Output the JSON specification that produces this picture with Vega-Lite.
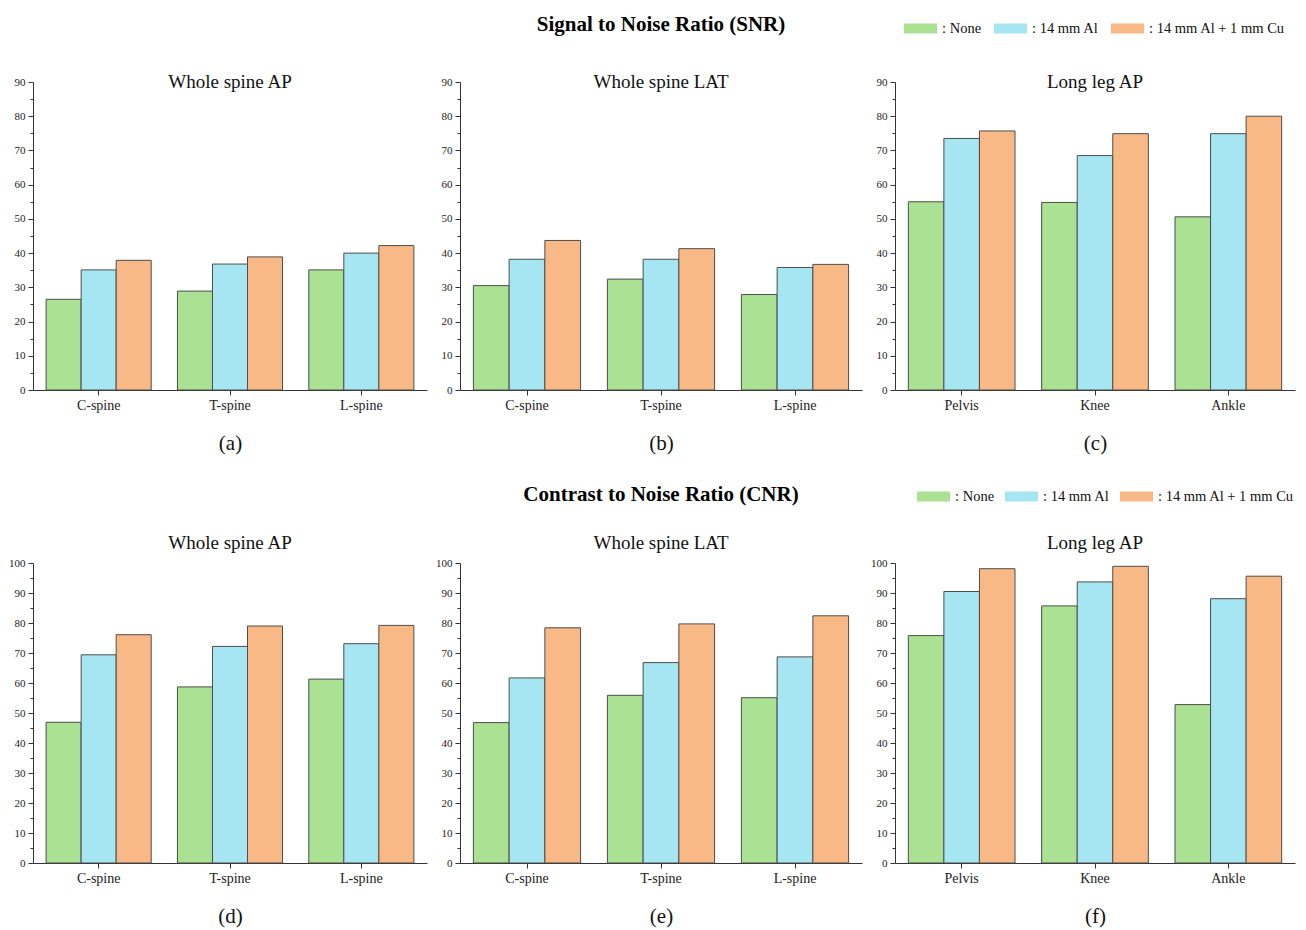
{
  "$schema": "https://vega.github.io/schema/vega-lite/v6.json",
  "background": "white",
  "padding": {"left": 8, "top": 12, "right": 6, "bottom": 4},
  "datasets": {
    "d": [
      {"panel": "a", "site": "C-spine", "filter": "None", "value": 26.5},
      {"panel": "a", "site": "C-spine", "filter": "14 mm Al", "value": 35.1},
      {"panel": "a", "site": "C-spine", "filter": "14 mm Al + 1 mm Cu", "value": 37.9},
      {"panel": "a", "site": "T-spine", "filter": "None", "value": 28.9},
      {"panel": "a", "site": "T-spine", "filter": "14 mm Al", "value": 36.8},
      {"panel": "a", "site": "T-spine", "filter": "14 mm Al + 1 mm Cu", "value": 38.9},
      {"panel": "a", "site": "L-spine", "filter": "None", "value": 35.1},
      {"panel": "a", "site": "L-spine", "filter": "14 mm Al", "value": 40.0},
      {"panel": "a", "site": "L-spine", "filter": "14 mm Al + 1 mm Cu", "value": 42.2},
      {"panel": "b", "site": "C-spine", "filter": "None", "value": 30.5},
      {"panel": "b", "site": "C-spine", "filter": "14 mm Al", "value": 38.2},
      {"panel": "b", "site": "C-spine", "filter": "14 mm Al + 1 mm Cu", "value": 43.7},
      {"panel": "b", "site": "T-spine", "filter": "None", "value": 32.4},
      {"panel": "b", "site": "T-spine", "filter": "14 mm Al", "value": 38.2},
      {"panel": "b", "site": "T-spine", "filter": "14 mm Al + 1 mm Cu", "value": 41.3},
      {"panel": "b", "site": "L-spine", "filter": "None", "value": 27.9},
      {"panel": "b", "site": "L-spine", "filter": "14 mm Al", "value": 35.8},
      {"panel": "b", "site": "L-spine", "filter": "14 mm Al + 1 mm Cu", "value": 36.7},
      {"panel": "c", "site": "Pelvis", "filter": "None", "value": 55.0},
      {"panel": "c", "site": "Pelvis", "filter": "14 mm Al", "value": 73.5},
      {"panel": "c", "site": "Pelvis", "filter": "14 mm Al + 1 mm Cu", "value": 75.7},
      {"panel": "c", "site": "Knee", "filter": "None", "value": 54.8},
      {"panel": "c", "site": "Knee", "filter": "14 mm Al", "value": 68.5},
      {"panel": "c", "site": "Knee", "filter": "14 mm Al + 1 mm Cu", "value": 74.9},
      {"panel": "c", "site": "Ankle", "filter": "None", "value": 50.6},
      {"panel": "c", "site": "Ankle", "filter": "14 mm Al", "value": 74.9},
      {"panel": "c", "site": "Ankle", "filter": "14 mm Al + 1 mm Cu", "value": 80.0},
      {"panel": "d", "site": "C-spine", "filter": "None", "value": 46.9},
      {"panel": "d", "site": "C-spine", "filter": "14 mm Al", "value": 69.4},
      {"panel": "d", "site": "C-spine", "filter": "14 mm Al + 1 mm Cu", "value": 76.1},
      {"panel": "d", "site": "T-spine", "filter": "None", "value": 58.7},
      {"panel": "d", "site": "T-spine", "filter": "14 mm Al", "value": 72.2},
      {"panel": "d", "site": "T-spine", "filter": "14 mm Al + 1 mm Cu", "value": 79.0},
      {"panel": "d", "site": "L-spine", "filter": "None", "value": 61.3},
      {"panel": "d", "site": "L-spine", "filter": "14 mm Al", "value": 73.1},
      {"panel": "d", "site": "L-spine", "filter": "14 mm Al + 1 mm Cu", "value": 79.2},
      {"panel": "e", "site": "C-spine", "filter": "None", "value": 46.8},
      {"panel": "e", "site": "C-spine", "filter": "14 mm Al", "value": 61.7},
      {"panel": "e", "site": "C-spine", "filter": "14 mm Al + 1 mm Cu", "value": 78.4},
      {"panel": "e", "site": "T-spine", "filter": "None", "value": 55.9},
      {"panel": "e", "site": "T-spine", "filter": "14 mm Al", "value": 66.8},
      {"panel": "e", "site": "T-spine", "filter": "14 mm Al + 1 mm Cu", "value": 79.7},
      {"panel": "e", "site": "L-spine", "filter": "None", "value": 55.1},
      {"panel": "e", "site": "L-spine", "filter": "14 mm Al", "value": 68.7},
      {"panel": "e", "site": "L-spine", "filter": "14 mm Al + 1 mm Cu", "value": 82.4},
      {"panel": "f", "site": "Pelvis", "filter": "None", "value": 75.8},
      {"panel": "f", "site": "Pelvis", "filter": "14 mm Al", "value": 90.5},
      {"panel": "f", "site": "Pelvis", "filter": "14 mm Al + 1 mm Cu", "value": 98.1},
      {"panel": "f", "site": "Knee", "filter": "None", "value": 85.7},
      {"panel": "f", "site": "Knee", "filter": "14 mm Al", "value": 93.7},
      {"panel": "f", "site": "Knee", "filter": "14 mm Al + 1 mm Cu", "value": 98.9},
      {"panel": "f", "site": "Ankle", "filter": "None", "value": 52.8},
      {"panel": "f", "site": "Ankle", "filter": "14 mm Al", "value": 88.1},
      {"panel": "f", "site": "Ankle", "filter": "14 mm Al + 1 mm Cu", "value": 95.6}
    ]
  },
  "data": {"name": "d"},
  "columns": 3,
  "spacing": {"row": 173, "column": 33},
  "bounds": "flush",
  "align": "each",
  "resolve": {"scale": {"x": "independent", "y": "independent", "xOffset": "independent"}},
  "concat": [
    {
      "width": 394, "height": 308,
      "title": {"text": "Whole spine AP", "offset": -16},
      "transform": [{"filter": "datum.panel === 'a'"}],
      "mark": {"type": "bar", "stroke": "#4d4d4d", "strokeWidth": 1},
      "encoding": {
        "x": {"field": "site", "type": "nominal", "sort": null, "scale": {"paddingInner": 0.2, "paddingOuter": 0.1}, "axis": {"title": "(a)"}},
        "xOffset": {"field": "filter", "type": "nominal", "sort": ["None", "14 mm Al", "14 mm Al + 1 mm Cu"], "scale": {"paddingInner": 0, "paddingOuter": 0}},
        "y": {"field": "value", "type": "quantitative", "scale": {"domain": [0, 90], "nice": false}, "axis": {"values": [0,5,10,15,20,25,30,35,40,45,50,55,60,65,70,75,80,85,90]}},
        "fill": {"field": "filter", "type": "nominal", "sort": ["None", "14 mm Al", "14 mm Al + 1 mm Cu"], "scale": {"domain": ["None", "14 mm Al", "14 mm Al + 1 mm Cu"], "range": ["#aae192", "#a6e6f2", "#f8b986"]},
          "legend": {"orient": "none", "legendX": 871, "legendY": -70, "direction": "horizontal", "title": null, "symbolType": "M-1,-0.3H1V0.3H-1Z", "symbolSize": 1089, "symbolStrokeWidth": 0, "symbolOpacity": 1, "labelExpr": "': ' + datum.label", "labelFont": "Liberation Serif", "labelFontSize": 14.5, "labelColor": "#111", "labelOffset": 5, "columnPadding": 12, "labelLimit": 300}}
      }
    },
    {
      "width": 402, "height": 308,
      "title": {"text": "Signal to Noise Ratio (SNR)", "subtitle": "Whole spine LAT", "offset": -16, "fontSize": 21, "fontWeight": "bold", "color": "#000", "subtitleFont": "Liberation Serif", "subtitleFontSize": 19, "subtitleColor": "#111", "subtitlePadding": 38},
      "transform": [{"filter": "datum.panel === 'b'"}],
      "mark": {"type": "bar", "stroke": "#4d4d4d", "strokeWidth": 1},
      "encoding": {
        "x": {"field": "site", "type": "nominal", "sort": null, "scale": {"paddingInner": 0.2, "paddingOuter": 0.1}, "axis": {"title": "(b)"}},
        "xOffset": {"field": "filter", "type": "nominal", "sort": ["None", "14 mm Al", "14 mm Al + 1 mm Cu"], "scale": {"paddingInner": 0, "paddingOuter": 0}},
        "y": {"field": "value", "type": "quantitative", "scale": {"domain": [0, 90], "nice": false}, "axis": {"values": [0,5,10,15,20,25,30,35,40,45,50,55,60,65,70,75,80,85,90]}},
        "fill": {"field": "filter", "type": "nominal", "sort": ["None", "14 mm Al", "14 mm Al + 1 mm Cu"], "scale": {"domain": ["None", "14 mm Al", "14 mm Al + 1 mm Cu"], "range": ["#aae192", "#a6e6f2", "#f8b986"]},
          "legend": {"orient": "none", "legendX": 871, "legendY": -70, "direction": "horizontal", "title": null, "symbolType": "M-1,-0.3H1V0.3H-1Z", "symbolSize": 1089, "symbolStrokeWidth": 0, "symbolOpacity": 1, "labelExpr": "': ' + datum.label", "labelFont": "Liberation Serif", "labelFontSize": 14.5, "labelColor": "#111", "labelOffset": 5, "columnPadding": 12, "labelLimit": 300}}
      }
    },
    {
      "width": 400, "height": 308,
      "title": {"text": "Long leg AP", "offset": -16},
      "transform": [{"filter": "datum.panel === 'c'"}],
      "mark": {"type": "bar", "stroke": "#4d4d4d", "strokeWidth": 1},
      "encoding": {
        "x": {"field": "site", "type": "nominal", "sort": null, "scale": {"paddingInner": 0.2, "paddingOuter": 0.1}, "axis": {"title": "(c)"}},
        "xOffset": {"field": "filter", "type": "nominal", "sort": ["None", "14 mm Al", "14 mm Al + 1 mm Cu"], "scale": {"paddingInner": 0, "paddingOuter": 0}},
        "y": {"field": "value", "type": "quantitative", "scale": {"domain": [0, 90], "nice": false}, "axis": {"values": [0,5,10,15,20,25,30,35,40,45,50,55,60,65,70,75,80,85,90]}},
        "fill": {"field": "filter", "type": "nominal", "sort": ["None", "14 mm Al", "14 mm Al + 1 mm Cu"], "scale": {"domain": ["None", "14 mm Al", "14 mm Al + 1 mm Cu"], "range": ["#aae192", "#a6e6f2", "#f8b986"]},
          "legend": {"orient": "none", "legendX": 871, "legendY": -70, "direction": "horizontal", "title": null, "symbolType": "M-1,-0.3H1V0.3H-1Z", "symbolSize": 1089, "symbolStrokeWidth": 0, "symbolOpacity": 1, "labelExpr": "': ' + datum.label", "labelFont": "Liberation Serif", "labelFontSize": 14.5, "labelColor": "#111", "labelOffset": 5, "columnPadding": 12, "labelLimit": 300}}
      }
    },
    {
      "width": 394, "height": 300,
      "title": {"text": "Whole spine AP", "offset": 4},
      "transform": [{"filter": "datum.panel === 'd'"}],
      "mark": {"type": "bar", "stroke": "#4d4d4d", "strokeWidth": 1},
      "encoding": {
        "x": {"field": "site", "type": "nominal", "sort": null, "scale": {"paddingInner": 0.2, "paddingOuter": 0.1}, "axis": {"title": "(d)"}},
        "xOffset": {"field": "filter", "type": "nominal", "sort": ["None", "14 mm Al", "14 mm Al + 1 mm Cu"], "scale": {"paddingInner": 0, "paddingOuter": 0}},
        "y": {"field": "value", "type": "quantitative", "scale": {"domain": [0, 100], "nice": false}, "axis": {"values": [0,5,10,15,20,25,30,35,40,45,50,55,60,65,70,75,80,85,90,95,100]}},
        "color": {"field": "filter", "type": "nominal", "sort": ["None", "14 mm Al", "14 mm Al + 1 mm Cu"], "scale": {"range": ["#aae192", "#a6e6f2", "#f8b986"]},
          "legend": {"orient": "none", "legendX": 884, "legendY": 398, "direction": "horizontal", "title": null, "symbolType": "M-1,-0.3H1V0.3H-1Z", "symbolSize": 1089, "symbolStrokeWidth": 0, "symbolOpacity": 1, "labelExpr": "': ' + datum.label", "labelFont": "Liberation Serif", "labelFontSize": 14.5, "labelColor": "#111", "labelOffset": 5, "columnPadding": 10, "labelLimit": 300}}
      }
    },
    {
      "width": 402, "height": 300,
      "title": {"text": "Contrast to Noise Ratio (CNR)", "subtitle": "Whole spine LAT", "offset": 4, "fontSize": 21, "fontWeight": "bold", "color": "#000", "subtitleFont": "Liberation Serif", "subtitleFontSize": 19, "subtitleColor": "#111", "subtitlePadding": 29},
      "transform": [{"filter": "datum.panel === 'e'"}],
      "mark": {"type": "bar", "stroke": "#4d4d4d", "strokeWidth": 1},
      "encoding": {
        "x": {"field": "site", "type": "nominal", "sort": null, "scale": {"paddingInner": 0.2, "paddingOuter": 0.1}, "axis": {"title": "(e)"}},
        "xOffset": {"field": "filter", "type": "nominal", "sort": ["None", "14 mm Al", "14 mm Al + 1 mm Cu"], "scale": {"paddingInner": 0, "paddingOuter": 0}},
        "y": {"field": "value", "type": "quantitative", "scale": {"domain": [0, 100], "nice": false}, "axis": {"values": [0,5,10,15,20,25,30,35,40,45,50,55,60,65,70,75,80,85,90,95,100]}},
        "color": {"field": "filter", "type": "nominal", "sort": ["None", "14 mm Al", "14 mm Al + 1 mm Cu"], "scale": {"range": ["#aae192", "#a6e6f2", "#f8b986"]},
          "legend": {"orient": "none", "legendX": 884, "legendY": 398, "direction": "horizontal", "title": null, "symbolType": "M-1,-0.3H1V0.3H-1Z", "symbolSize": 1089, "symbolStrokeWidth": 0, "symbolOpacity": 1, "labelExpr": "': ' + datum.label", "labelFont": "Liberation Serif", "labelFontSize": 14.5, "labelColor": "#111", "labelOffset": 5, "columnPadding": 10, "labelLimit": 300}}
      }
    },
    {
      "width": 400, "height": 300,
      "title": {"text": "Long leg AP", "offset": 4},
      "transform": [{"filter": "datum.panel === 'f'"}],
      "mark": {"type": "bar", "stroke": "#4d4d4d", "strokeWidth": 1},
      "encoding": {
        "x": {"field": "site", "type": "nominal", "sort": null, "scale": {"paddingInner": 0.2, "paddingOuter": 0.1}, "axis": {"title": "(f)"}},
        "xOffset": {"field": "filter", "type": "nominal", "sort": ["None", "14 mm Al", "14 mm Al + 1 mm Cu"], "scale": {"paddingInner": 0, "paddingOuter": 0}},
        "y": {"field": "value", "type": "quantitative", "scale": {"domain": [0, 100], "nice": false}, "axis": {"values": [0,5,10,15,20,25,30,35,40,45,50,55,60,65,70,75,80,85,90,95,100]}},
        "color": {"field": "filter", "type": "nominal", "sort": ["None", "14 mm Al", "14 mm Al + 1 mm Cu"], "scale": {"range": ["#aae192", "#a6e6f2", "#f8b986"]},
          "legend": {"orient": "none", "legendX": 884, "legendY": 398, "direction": "horizontal", "title": null, "symbolType": "M-1,-0.3H1V0.3H-1Z", "symbolSize": 1089, "symbolStrokeWidth": 0, "symbolOpacity": 1, "labelExpr": "': ' + datum.label", "labelFont": "Liberation Serif", "labelFontSize": 14.5, "labelColor": "#111", "labelOffset": 5, "columnPadding": 10, "labelLimit": 300}}
      }
    }
  ],
  "config": {
    "view": {"stroke": null},
    "font": "Liberation Serif",
    "title": {"font": "Liberation Serif", "fontSize": 19, "fontWeight": "normal", "color": "#111", "anchor": "middle", "baseline": "alphabetic"},
    "axis": {"domainColor": "#333", "tickColor": "#333", "labelFont": "Liberation Serif", "labelColor": "#222", "grid": false, "titleFont": "Liberation Serif", "titleFontWeight": "normal", "titleColor": "#111"},
    "axisX": {"labelAngle": 0, "labelFontSize": 14, "tickSize": 5, "labelPadding": 3, "titleFontSize": 21, "titlePadding": 20},
    "axisY": {"title": null, "labelFontSize": 11, "labelPadding": 3, "labelExpr": "datum.value % 10 === 0 ? datum.label : ''", "tickSize": {"condition": {"test": "datum.value % 10 === 0", "value": 5}, "value": 3}}
  }
}
